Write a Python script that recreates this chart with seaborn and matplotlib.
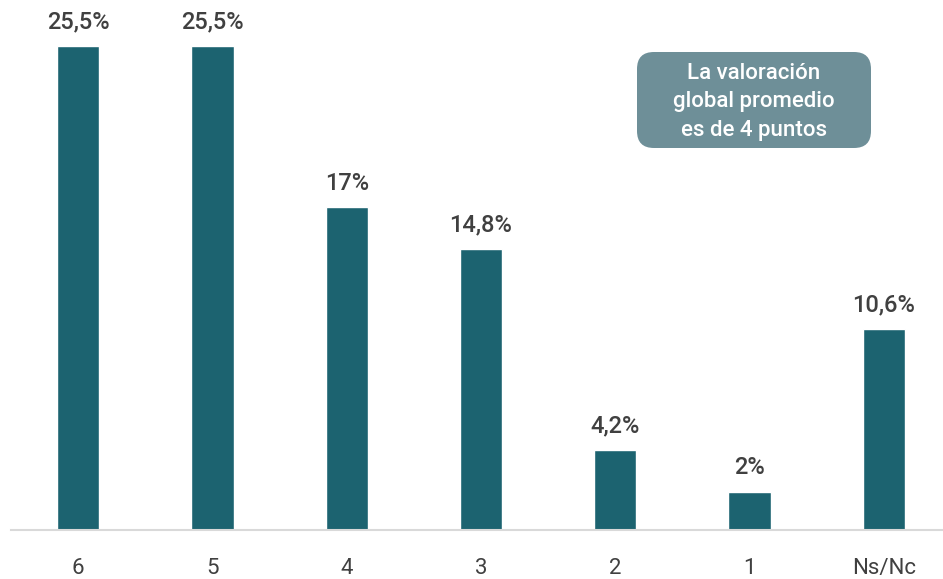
import matplotlib
matplotlib.use("Agg")
import matplotlib.pyplot as plt
import seaborn as sns
import pandas as pd
from matplotlib.patches import FancyBboxPatch

categories = ["6", "5", "4", "3", "2", "1", "Ns/Nc"]
values = [25.5, 25.5, 17, 14.8, 4.2, 2, 10.6]
labels = ["25,5%", "25,5%", "17%", "14,8%", "4,2%", "2%", "10,6%"]
note = "La valoración\nglobal promedio\nes de 4 puntos"

sns.set_style("white")
plt.rcParams["font.family"] = ["Roboto", "DejaVu Sans"]

df = pd.DataFrame({"cat": categories, "val": values})

fig = plt.figure(figsize=(9.43, 5.79), dpi=100)
ax = fig.add_axes([11 / 943, 1 - 530 / 579, 940 / 943, 530 / 579])
sns.barplot(data=df, x="cat", y="val", color="#1C6370", saturation=1,
            width=0.315, ax=ax)
ax.set_xlim(-0.5, 6.5)
ax.set_ylim(0, 530 / 19)
for i, (v, lab) in enumerate(zip(values, labels)):
    ax.annotate(lab, (i, v), xytext=(0, 9), textcoords="offset points",
                ha="center", va="bottom", fontsize=17, fontweight="medium",
                color="#404040", clip_on=False)
for s in ["top", "right", "left"]:
    ax.spines[s].set_visible(False)
ax.spines["bottom"].set_color("#D9D9D9")
ax.spines["bottom"].set_linewidth(1.5)
ax.set_yticks([])
ax.set_xlabel("")
ax.set_ylabel("")
ax.tick_params(axis="x", length=0, pad=20, labelsize=16, labelcolor="#404040")

box = FancyBboxPatch((637 / 943, 1 - 148 / 579), 234 / 943, 96 / 579,
                     boxstyle="round,pad=0,rounding_size=0.018",
                     transform=fig.transFigure, facecolor="#6E8F98",
                     edgecolor="none", mutation_aspect=943 / 579)
fig.patches.append(box)
fig.text(754 / 943, 1 - 102 / 579, note, ha="center", va="center",
         fontsize=16, fontweight="medium", color="white", linespacing=1.45)

fig.savefig("out.png", dpi=100)
